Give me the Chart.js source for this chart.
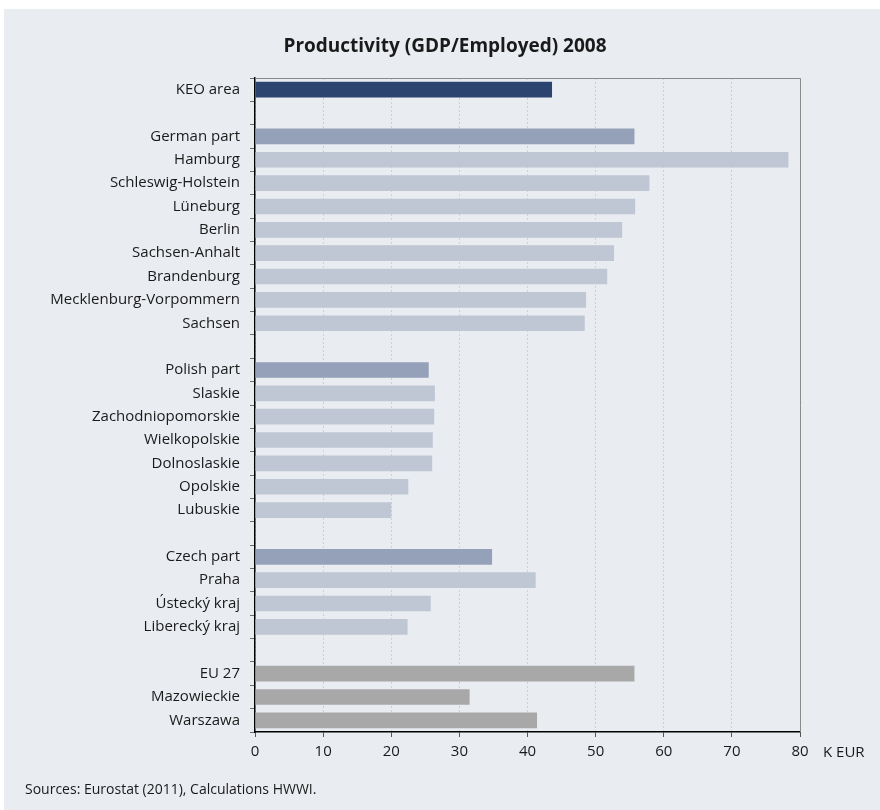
<!doctype html>
<html lang="en">
  <head>
    <meta charset="utf-8">
    <title>Productivity (GDP/Employed) 2008</title>
    <style>
      * { margin: 0; padding: 0; }
      body { background: #ffffff; }
      .chartBox { width: 880px; height: 810px; }
    </style>
  </head>
  <body>
    <div class="chartBox">
      <canvas id="myChart"></canvas>
    </div>

    <script src="https://cdn.jsdelivr.net/npm/chart.js"></script>
    <script>
    // setup - '' rows are the gaps between the groups
    const regions = [
      'KEO area', '',
      'German part', 'Hamburg', 'Schleswig-Holstein', 'Lüneburg', 'Berlin',
      'Sachsen-Anhalt', 'Brandenburg', 'Mecklenburg-Vorpommern', 'Sachsen', '',
      'Polish part', 'Slaskie', 'Zachodniopomorskie', 'Wielkopolskie',
      'Dolnoslaskie', 'Opolskie', 'Lubuskie', '',
      'Czech part', 'Praha', 'Ústecký kraj', 'Liberecký kraj', '',
      'EU 27', 'Mazowieckie', 'Warszawa'
    ];
    const productivity = [
      43.6, null,
      55.7, 78.3, 57.9, 55.8, 53.9, 52.7, 51.7, 48.6, 48.4, null,
      25.5, 26.4, 26.3, 26.1, 26.0, 22.5, 20.0, null,
      34.8, 41.2, 25.8, 22.4, null,
      55.7, 31.5, 41.4
    ];
    const kind = [
      'total', '',
      'part', 'region', 'region', 'region', 'region', 'region', 'region', 'region', 'region', '',
      'part', 'region', 'region', 'region', 'region', 'region', 'region', '',
      'part', 'region', 'region', 'region', '',
      'compare', 'compare', 'compare'
    ];
    const xTicks = [0, 10, 20, 30, 40, 50, 60, 70, 80];
    const title = 'Productivity (GDP/Employed) 2008';
    const unit = 'K EUR';
    const source = 'Sources: Eurostat (2011), Calculations HWWI.';

    const kindColors = {
      total: '#2b4470',
      part: '#95a1b8',
      region: '#bfc6d4',
      compare: '#a8a8a8',
      '': 'rgba(0,0,0,0)'
    };

    const FONT = "'Open Sans', sans-serif";
    const BG = '#e9ecf1';

    // background panel, title, frame, unit and source note
    const decor = {
      id: 'decor',
      beforeDraw(chart) {
        const ctx = chart.ctx;
        ctx.save();
        ctx.fillStyle = '#ffffff';
        ctx.fillRect(0, 0, chart.width, chart.height);
        ctx.fillStyle = BG;
        ctx.fillRect(4, 9, chart.width - 4, chart.height - 9);
        ctx.restore();
      },
      afterDraw(chart) {
        const ctx = chart.ctx;
        const a = chart.chartArea;
        ctx.save();
        ctx.strokeStyle = '#8a8a8a';
        ctx.lineWidth = 1;
        ctx.beginPath();
        ctx.moveTo(a.left, a.top + 0.5);
        ctx.lineTo(a.right + 0.5, a.top + 0.5);
        ctx.lineTo(a.right + 0.5, a.bottom);
        ctx.stroke();
        ctx.fillStyle = '#1a1a1a';
        ctx.textBaseline = 'middle';
        ctx.textAlign = 'center';
        ctx.font = 'bold 19px ' + FONT;
        ctx.fillText(title, 445, 47);
        ctx.textAlign = 'left';
        ctx.font = '15px ' + FONT;
        ctx.fillText(unit, a.right + 23, 753);
        ctx.font = '14px ' + FONT;
        ctx.fillText(source, 25, 790);
        ctx.restore();
      }
    };

    const data = {
      labels: regions,
      datasets: [{
        data: productivity,
        backgroundColor: kind.map(k => kindColors[k]),
        borderWidth: 0,
        barPercentage: 0.67,
        categoryPercentage: 1
      }]
    };

    // config
    const config = {
      type: 'bar',
      data,
      plugins: [decor],
      options: {
        indexAxis: 'y',
        responsive: true,
        maintainAspectRatio: false,
        animation: false,
        layout: { padding: { left: 0, right: 80, top: 78, bottom: 0 } },
        plugins: {
          legend: { display: false },
          tooltip: { enabled: false },
          title: { display: false }
        },
        scales: {
          x: {
            min: 0,
            max: 80,
            afterBuildTicks: (scale) => { scale.ticks = xTicks.map(v => ({ value: v })); },
            afterFit: (scale) => { scale.height = 78; },
            ticks: {
              color: '#1a1a1a',
              font: { family: FONT, size: 15 },
              padding: 6
            },
            grid: {
              color: '#cdd1d7',
              tickColor: '#555555',
              tickLength: 5,
              lineWidth: 1,
              tickBorderDash: []
            },
            // dash here only dots the vertical grid lines
            border: { color: '#000000', width: 1.5, dash: [2, 2] }
          },
          y: {
            afterFit: (scale) => { scale.width = 255; },
            ticks: {
              color: '#1a1a1a',
              font: { family: FONT, size: 15 },
              padding: 10,
              autoSkip: false
            },
            grid: {
              drawOnChartArea: false,
              offset: true,
              color: '#6e6e6e',
              tickLength: 5
            },
            border: { color: '#000000', width: 1.5 }
          }
        }
      }
    };

    const myChart = new Chart(document.getElementById('myChart'), config);
    </script>
  </body>
</html>
